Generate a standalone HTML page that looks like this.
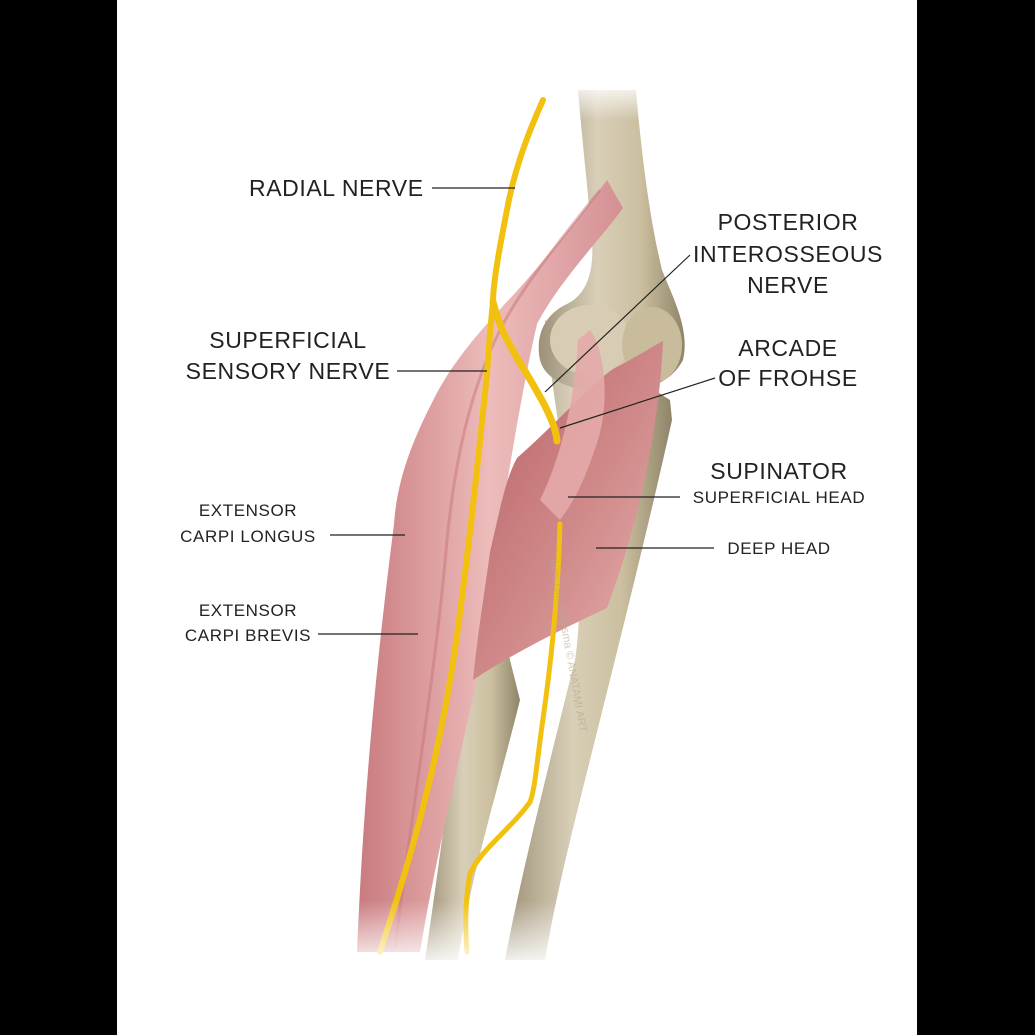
<!DOCTYPE html>
<html><head><meta charset="utf-8"><style>
html,body{margin:0;padding:0;background:#000}
svg{display:block}
text{font-family:"Liberation Sans",sans-serif;fill:#222}
</style></head><body>
<svg width="1035" height="1035" viewBox="0 0 1035 1035" xmlns="http://www.w3.org/2000/svg">
<defs>
<linearGradient id="bone" x1="0" y1="0" x2="1" y2="0">
<stop offset="0" stop-color="#9c9077"/><stop offset="0.4" stop-color="#d9cfb8"/><stop offset="0.7" stop-color="#cbbf9f"/><stop offset="1" stop-color="#8f8468"/></linearGradient>
<linearGradient id="mus" x1="0" y1="0" x2="1" y2="0">
<stop offset="0" stop-color="#c97a7e"/><stop offset="0.5" stop-color="#edbcbb"/><stop offset="1" stop-color="#d49094"/></linearGradient>
<linearGradient id="sup" x1="0" y1="0" x2="1" y2="1">
<stop offset="0" stop-color="#b65f62"/><stop offset="0.6" stop-color="#d38e8e"/><stop offset="1" stop-color="#e7b6b3"/></linearGradient>
<linearGradient id="fadeB" x1="0" y1="0" x2="0" y2="1">
<stop offset="0" stop-color="#fff" stop-opacity="0"/><stop offset="1" stop-color="#fff" stop-opacity="1"/></linearGradient>
<linearGradient id="fadeT" x1="0" y1="0" x2="0" y2="1">
<stop offset="0" stop-color="#fff" stop-opacity="1"/><stop offset="1" stop-color="#fff" stop-opacity="0"/></linearGradient>
</defs>
<rect x="0" y="0" width="1035" height="1035" fill="#000"/>
<rect x="117" y="0" width="800" height="1035" fill="#fff"/>
<!-- radius -->
<path d="M465,680 L505,640 L520,700 C495,800 470,880 458,960 L425,960 C440,860 452,760 465,680Z" fill="url(#bone)"/>
<!-- ulna -->
<path d="M545,320 L670,400 L672,420 C650,520 620,640 590,760 C570,840 555,900 545,960 L505,960 C520,880 545,780 575,660 C590,560 560,470 545,320Z" fill="url(#bone)"/>
<!-- humerus -->
<path d="M578,90 L636,90 C642,160 650,220 662,270 C674,300 690,330 683,360 C670,385 640,395 600,392 C570,390 545,380 540,360 C535,335 545,315 565,305 C588,295 594,270 592,240 C588,190 582,140 578,90Z" fill="url(#bone)"/>
<ellipse cx="590" cy="340" rx="40" ry="35" fill="#d8cdb4"/>
<ellipse cx="652" cy="345" rx="30" ry="38" fill="#c9bc9c"/>
<rect x="560" y="80" width="90" height="40" fill="url(#fadeT)"/>
<!-- ECRL / ECRB muscles -->
<path d="M607,180 C570,230 540,265 517,291 C480,330 455,360 438,391 C412,440 397,480 394,524 C382,620 365,760 357,952 L420,952 C435,860 460,760 480,663 C495,560 515,420 537,324 C560,280 600,240 623,208Z" fill="url(#mus)"/>
<path d="M600,190 C560,240 520,290 500,330 C470,390 455,460 447,540 C435,680 410,820 395,950" fill="none" stroke="#c87578" stroke-width="3" opacity="0.5"/>
<!-- supinator -->
<path d="M517,458 C560,420 590,385 613,369 C640,355 655,345 663,341 C660,420 640,520 607,608 C560,630 510,655 473,680 C478,630 485,590 490,552 C500,510 505,480 517,458Z" fill="url(#sup)"/>
<path d="M590,330 C605,350 610,400 598,440 C585,480 575,500 560,520 L540,500 C560,460 575,400 578,340Z" fill="#e3aaa8" opacity="0.9"/>
<!-- nerves -->
<g fill="none" stroke="#f2c10f" stroke-linecap="round">
<path d="M543,100 C525,140 513,175 506,215 C498,255 493,285 493,302 C490,330 488,360 487,374 C478,460 470,540 457,635 C440,760 410,860 380,952" stroke-width="6"/>
<path d="M493,302 C500,330 510,345 517,358 C528,375 537,392 543,402 C552,420 556,430 557,441" stroke-width="7"/>
<path d="M560,524 C558,600 550,670 543,719 C537,760 535,790 530,802 C510,830 480,850 470,874 C465,900 465,930 467,952" stroke-width="5"/>
</g>
<rect x="300" y="900" width="360" height="70" fill="url(#fadeB)"/>
<text x="497" y="620" font-size="11" style="fill:#b3aa92" transform="rotate(80 560 620)" opacity="0.6">Tami Lim Ledesma © ANATAMI ART</text>
<!-- leader lines -->
<g stroke="#222" stroke-width="1.2">
<line x1="432" y1="188" x2="515" y2="188"/>
<line x1="690" y1="255" x2="545" y2="392"/>
<line x1="397" y1="371" x2="487" y2="371"/>
<line x1="715" y1="378" x2="560" y2="428"/>
<line x1="568" y1="497" x2="680" y2="497"/>
<line x1="596" y1="548" x2="714" y2="548"/>
<line x1="330" y1="535" x2="405" y2="535"/>
<line x1="318" y1="634" x2="418" y2="634"/>
</g>
<g font-size="23" letter-spacing="0.6">
<text x="249" y="196">RADIAL NERVE</text>
<text x="788" y="230" text-anchor="middle">POSTERIOR</text>
<text x="788" y="262" text-anchor="middle">INTEROSSEOUS</text>
<text x="788" y="293" text-anchor="middle">NERVE</text>
<text x="288" y="348" text-anchor="middle">SUPERFICIAL</text>
<text x="288" y="379" text-anchor="middle">SENSORY NERVE</text>
<text x="788" y="356" text-anchor="middle">ARCADE</text>
<text x="788" y="386" text-anchor="middle">OF FROHSE</text>
<text x="779" y="479" text-anchor="middle">SUPINATOR</text>
</g>
<g font-size="17" letter-spacing="0.6">
<text x="779" y="503" text-anchor="middle">SUPERFICIAL HEAD</text>
<text x="779" y="554" text-anchor="middle">DEEP HEAD</text>
<text x="248" y="516" text-anchor="middle">EXTENSOR</text>
<text x="248" y="542" text-anchor="middle">CARPI LONGUS</text>
<text x="248" y="616" text-anchor="middle">EXTENSOR</text>
<text x="248" y="641" text-anchor="middle">CARPI BREVIS</text>
</g>
</svg>
</body></html>
